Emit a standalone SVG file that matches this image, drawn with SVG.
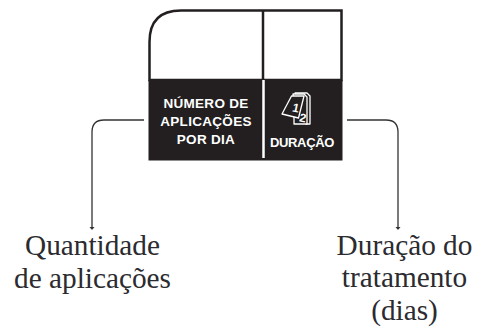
<svg xmlns="http://www.w3.org/2000/svg" width="478" height="331" viewBox="0 0 478 331">
<style>
.lbl{font-family:"Liberation Serif",serif;font-size:29.3px;fill:#2b2b30;text-anchor:middle}
.ico{font-family:"Liberation Sans",Arial,sans-serif;font-weight:700;fill:#fff;text-anchor:middle}
.conn{fill:none;stroke:#333;stroke-width:1.3}
.head{fill:#333}
.pg{fill:#231f20;stroke:#fff;stroke-width:1.3;stroke-linejoin:round}
</style>
<rect width="478" height="331" fill="#fff"/>
<g id="label-box">
<path d="M149.500 80V42Q149.500 10.500 181 10.500H341.500V80Z" fill="#fff" stroke="#231f20" stroke-width="2.500"/>
<line x1="263" y1="10" x2="263" y2="80" stroke="#231f20" stroke-width="2.500"/>
<rect x="148.500" y="80" width="194" height="80.500" fill="#231f20"/>
<line x1="263.500" y1="80" x2="263.500" y2="158" stroke="#fff" stroke-width="2.500"/>
</g>
<g id="node-aplicacoes">
<text class="ico" font-size="13.500" letter-spacing="0.3"><tspan x="206" y="108">NÚMERO DE</tspan><tspan x="206" y="126">APLICAÇÕES</tspan><tspan x="206" y="143.500">POR DIA</tspan></text>
</g>
<g id="node-duracao">
<path class="pg" d="M295 93H307L310 96V124H306Z"/>
<path class="pg" d="M293 94H304L307 97V124H294V112Z"/>
<path class="pg" d="M291.500 96H304L298.500 118L282 114Z"/>
<text x="295" y="112" font-family="'Liberation Sans',sans-serif" font-weight="700" font-size="12" fill="#fff" text-anchor="middle" transform="rotate(12 295 112)">1</text>
<text x="302" y="122" font-family="'Liberation Sans',sans-serif" font-weight="700" font-size="12" fill="#fff" text-anchor="middle" transform="rotate(12 302 122)">2</text>
<text class="ico" x="302" y="147" font-size="13" letter-spacing="-0.35">DURAÇÃO</text>
</g>
<g id="connectors">
<path class="conn" d="M144 120H104Q92 120 92 132V228"/>
<polygon class="head" points="89.500,227 94.500,227 92,230"/>
<path class="conn" d="M347 120H386Q398 120 398 132V228"/>
<polygon class="head" points="395.500,227 400.500,227 398,230"/>
</g>
<g id="node-quantidade">
<text class="lbl"><tspan x="92.500" y="255">Quantidade</tspan><tspan x="92.500" y="287.500">de aplicações</tspan></text>
</g>
<g id="node-tratamento">
<text class="lbl"><tspan x="404.500" y="254.500">Duração do</tspan><tspan x="404.500" y="287">tratamento</tspan><tspan x="404.500" y="320">(dias)</tspan></text>
</g>
</svg>
